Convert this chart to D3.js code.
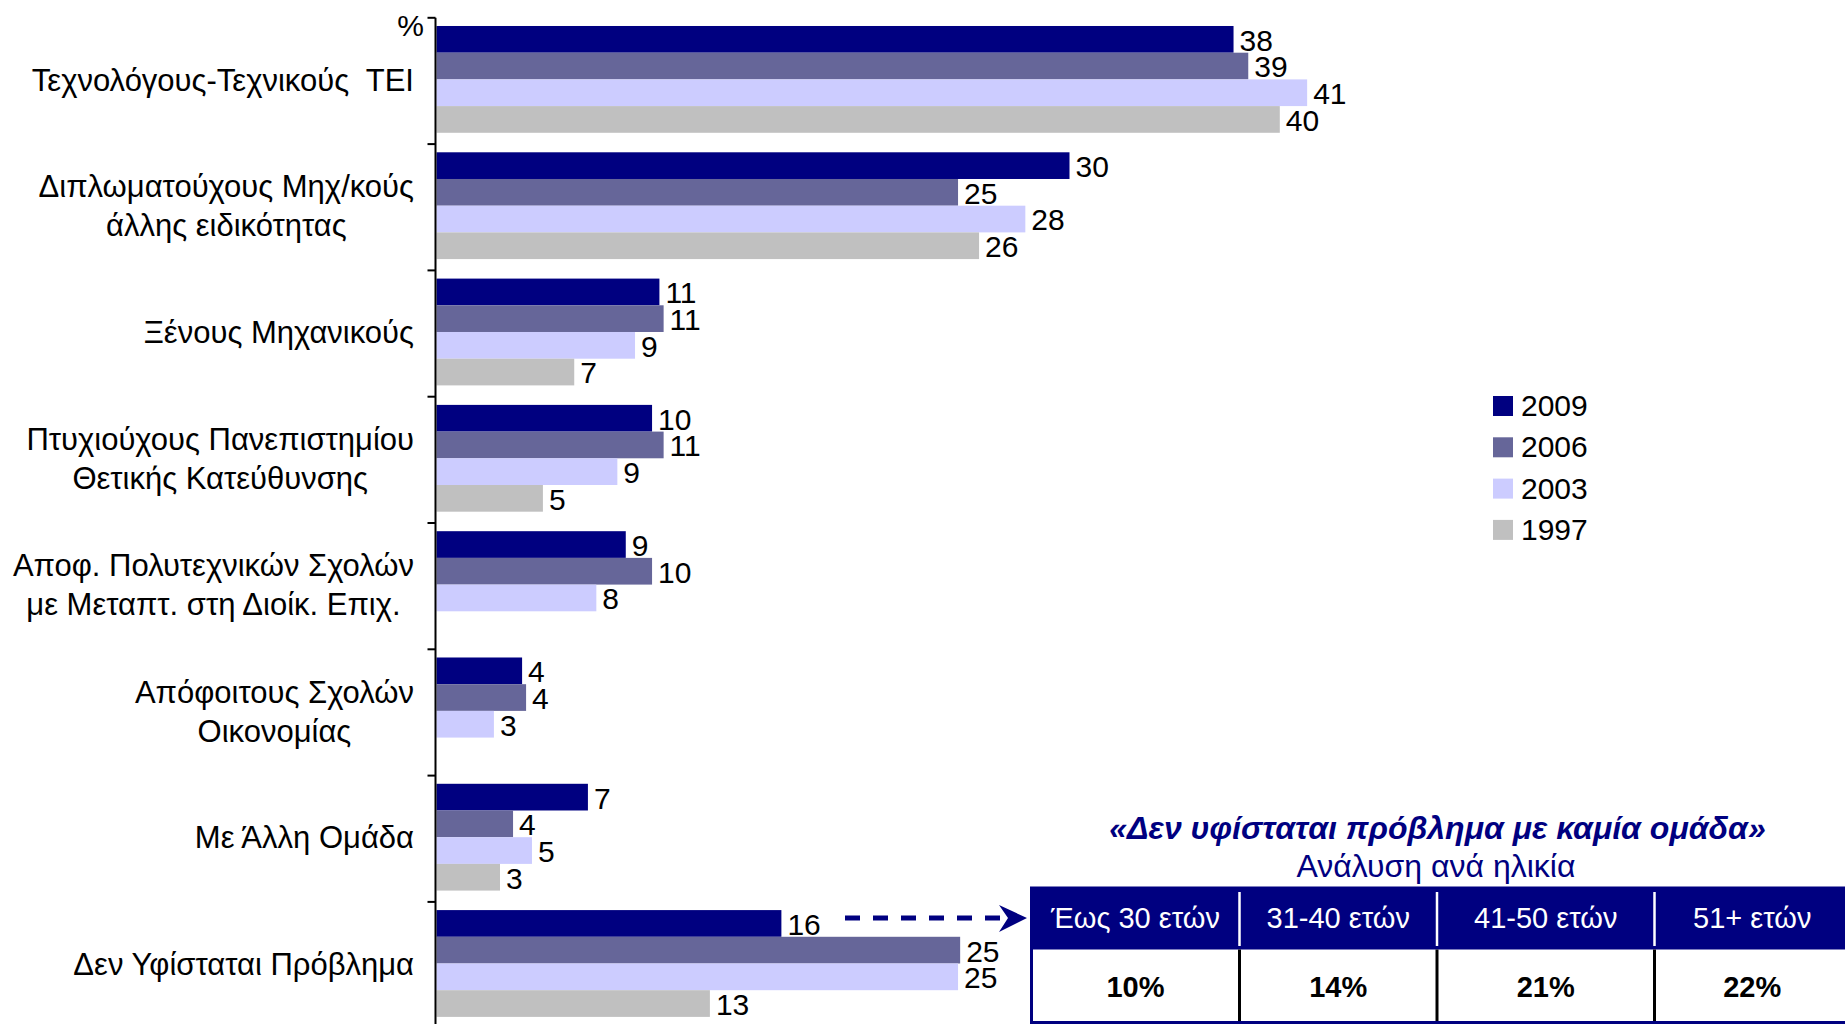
<!DOCTYPE html>
<html>
<head>
<meta charset="utf-8">
<script src="https://cdn.jsdelivr.net/npm/d3@7"></script>
<style>
  html, body { margin: 0; padding: 0; background: #fff; }
  svg { display: block; }
  text { font-family: "Liberation Sans", Arial, sans-serif; }
</style>
</head>
<body>
<script>
// ---------------- DATA ----------------
const categories = [
  "Τεχνολόγους-Τεχνικούς  ΤΕΙ",
  "Διπλωματούχους Μηχ/κούς\nάλλης ειδικότητας",
  "Ξένους Μηχανικούς",
  "Πτυχιούχους Πανεπιστημίου\nΘετικής Κατεύθυνσης",
  "Αποφ. Πολυτεχνικών Σχολών\nμε Μεταπτ. στη Διοίκ. Επιχ.",
  "Απόφοιτους Σχολών\nΟικονομίας",
  "Με Άλλη Ομάδα",
  "Δεν Υφίσταται Πρόβλημα"
];
const seriesNames = ["2009", "2006", "2003", "1997"];
const values2009 = [37.9, 30.1, 10.6, 10.25, 9.0, 4.07, 7.2, 16.4];
const values2006 = [38.6, 24.8, 10.8, 10.8, 10.25, 4.26, 3.64, 24.9];
const values2003 = [41.4, 28.0, 9.44, 8.6, 7.6, 2.73, 4.54, 24.8];
const values1997 = [40.1, 25.8, 6.55, 5.06, null, null, 3.02, 13.0];
const seriesColors = ["#000080", "#666699", "#CCCCFF", "#C0C0C0"];

const insetTitle = "«Δεν υφίσταται πρόβλημα με καμία ομάδα»";
const insetSubtitle = "Ανάλυση ανά ηλικία";
const ageGroups = ["Έως 30 ετών", "31-40 ετών", "41-50 ετών", "51+ ετών"];
const ageValues = [10, 14, 21, 22];
const axisUnit = "%";

// ---------------- LAYOUT ----------------
const W = 1845, H = 1024;
const FONT = 30;
const seriesValues = [values2009, values2006, values2003, values1997];

const svg = d3.select("body").append("svg")
  .attr("width", W).attr("height", H)
  .attr("viewBox", `0 0 ${W} ${H}`);
svg.append("rect").attr("width", W).attr("height", H).attr("fill", "#fff");

const x = d3.scaleLinear().domain([0, 50]).range([436.5, 436.5 + 50 * 21.03]);
const yTop = 17.8, yStep = 126.3;
const y = d3.scaleBand()
  .domain(d3.range(categories.length))
  .range([yTop, yTop + yStep * categories.length])
  .paddingInner(0.1544).paddingOuter(0.0772).align(0.42);
const inner = d3.scaleBand().domain(seriesNames).range([0, y.bandwidth()]);
const color = d3.scaleOrdinal().domain(seriesNames).range(seriesColors);

// bars
const rows = [];
categories.forEach((c, i) => {
  seriesNames.forEach((s, j) => {
    const v = seriesValues[j][i];
    if (v !== null && v !== undefined) rows.push({ ci: i, s, v });
  });
});

const gBars = svg.append("g");
gBars.selectAll("rect").data(rows).join("rect")
  .attr("x", x(0))
  .attr("y", d => y(d.ci) + inner(d.s))
  .attr("width", d => x(d.v) - x(0))
  .attr("height", inner.bandwidth())
  .attr("fill", d => color(d.s));

gBars.selectAll("text").data(rows).join("text")
  .attr("x", d => x(d.v) + 6)
  .attr("y", d => y(d.ci) + inner(d.s) + inner.bandwidth() / 2)
  .attr("dy", "0.38em")
  .attr("font-size", FONT)
  .attr("fill", "#000")
  .text(d => Math.round(d.v));

// axis
const axisX = 435.5;
const gAxis = svg.append("g");
gAxis.append("line")
  .attr("x1", axisX).attr("x2", axisX)
  .attr("y1", y.range()[0]).attr("y2", H + 10)
  .attr("stroke", "#000").attr("stroke-width", 2);
const tickYs = d3.range(categories.length + 1).map(i => y.range()[0] + i * y.step());
gAxis.selectAll("line.tick").data(tickYs).join("line")
  .attr("class", "tick")
  .attr("x1", axisX - 8).attr("x2", axisX)
  .attr("y1", d => d).attr("y2", d => d)
  .attr("stroke", "#000").attr("stroke-width", 2);
gAxis.append("text")
  .attr("x", 424).attr("y", 36)
  .attr("text-anchor", "end")
  .attr("font-size", FONT)
  .text(axisUnit);

// category labels
const labelRight = 414, lineGap = 39, LABEL_FONT = 31;
const gLab = svg.append("g");
categories.forEach((c, i) => {
  const lines = c.split("\n");
  const cy = y.range()[0] + (i + 0.5) * y.step() - 1.5;
  const g = gLab.append("g");
  const ts = lines.map((ln, k) => g.append("text")
    .attr("y", cy + (k - (lines.length - 1) / 2) * lineGap)
    .attr("dy", "0.36em")
    .attr("font-size", LABEL_FONT)
    .attr("text-anchor", "middle")
    .style("white-space", "pre")
    .text(ln));
  const maxW = d3.max(ts, t => t.node().getComputedTextLength());
  ts.forEach(t => t.attr("x", labelRight - maxW / 2));
});

// legend
const gLeg = svg.append("g");
seriesNames.forEach((s, i) => {
  const ly = 396 + i * 41.3;
  gLeg.append("rect").attr("x", 1493).attr("y", ly).attr("width", 20).attr("height", 20).attr("fill", color(s));
  gLeg.append("text").attr("x", 1521).attr("y", ly + 20).attr("font-size", FONT).text(s);
});

// inset title
const navy = "#000080";
svg.append("text")
  .attr("x", 1437.5).attr("y", 827).attr("dy", "0.36em")
  .attr("text-anchor", "middle")
  .attr("font-size", 32).attr("font-weight", "bold").attr("font-style", "italic")
  .attr("fill", navy).text(insetTitle);
svg.append("text")
  .attr("x", 1436).attr("y", 865).attr("dy", "0.36em")
  .attr("text-anchor", "middle")
  .attr("font-size", 32).attr("fill", navy).text(insetSubtitle);

// arrow from the "16" bar towards the table
const arrowY = 918;
svg.append("line")
  .attr("x1", 845).attr("x2", 1001)
  .attr("y1", arrowY).attr("y2", arrowY)
  .attr("stroke", navy).attr("stroke-width", 5)
  .attr("stroke-dasharray", "15,13");
svg.append("path")
  .attr("d", `M999,${arrowY - 13} L1027,${arrowY} L999,${arrowY + 14} L1008,${arrowY} Z`)
  .attr("fill", navy);

// table
const colEdges = [1031.5, 1239.5, 1437, 1654.5, 1850];
const tTop = 888, tMid = 948, tBot = 1022.5;
const gT = svg.append("g");
gT.append("rect")
  .attr("x", colEdges[0]).attr("y", tTop)
  .attr("width", colEdges[4] - colEdges[0]).attr("height", tMid - tTop)
  .attr("fill", navy);
gT.append("rect")
  .attr("x", colEdges[0]).attr("y", tTop)
  .attr("width", colEdges[4] - colEdges[0]).attr("height", tBot - tTop)
  .attr("fill", "none").attr("stroke", navy).attr("stroke-width", 3);
gT.append("line")
  .attr("x1", colEdges[0]).attr("x2", colEdges[4])
  .attr("y1", tMid).attr("y2", tMid)
  .attr("stroke", navy).attr("stroke-width", 3);
colEdges.slice(1, 4).forEach(cx => {
  gT.append("line").attr("x1", cx).attr("x2", cx).attr("y1", tTop + 4).attr("y2", tMid - 2)
    .attr("stroke", "#fff").attr("stroke-width", 2.5);
  gT.append("line").attr("x1", cx).attr("x2", cx).attr("y1", tMid + 1.5).attr("y2", tBot - 1.5)
    .attr("stroke", "#000").attr("stroke-width", 3);
});
ageGroups.forEach((a, i) => {
  const cx = (colEdges[i] + colEdges[i + 1]) / 2;
  gT.append("text").attr("x", cx).attr("y", (tTop + tMid) / 2).attr("dy", "0.36em")
    .attr("text-anchor", "middle").attr("font-size", 29).attr("fill", "#fff").text(a);
  gT.append("text").attr("x", cx).attr("y", (tMid + tBot) / 2 + 1).attr("dy", "0.36em")
    .attr("text-anchor", "middle").attr("font-size", 29).attr("font-weight", "bold")
    .attr("fill", "#000").text(ageValues[i] + "%");
});
</script>
</body>
</html>
